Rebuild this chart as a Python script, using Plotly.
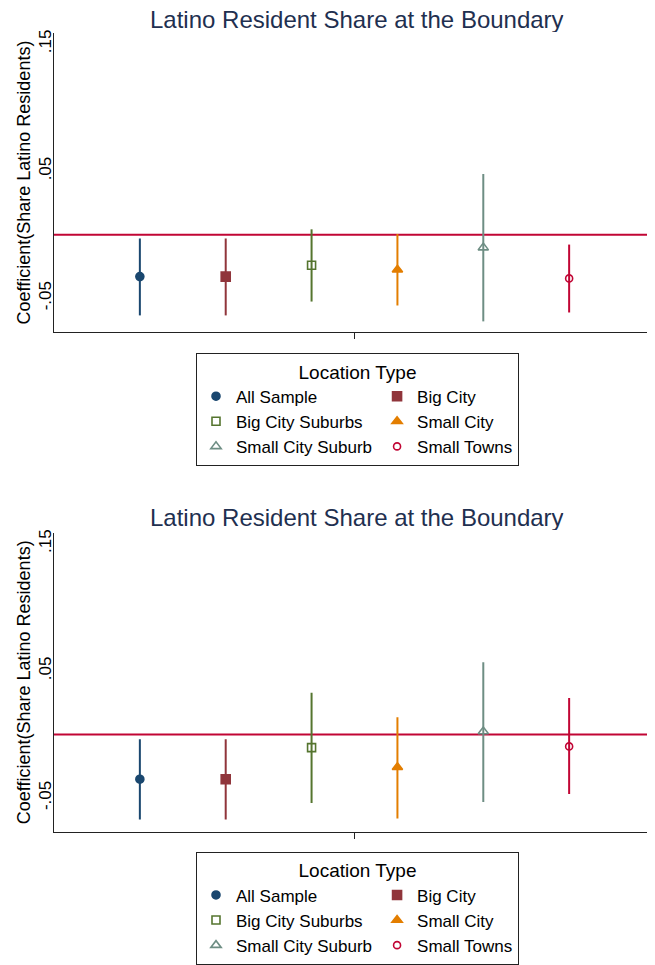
import plotly.graph_objects as go

categories = ["All Sample", "Big City", "Big City Suburbs", "Small City",
              "Small City Suburb", "Small Towns"]
x_pos = [1, 2, 3, 4, 5, 6]

top_coef = [-0.0330, -0.0330, -0.0240, -0.0276, -0.0102, -0.0344]
top_lo = [-0.0635, -0.0635, -0.0526, -0.0557, -0.0682, -0.0612]
top_hi = [-0.0030, -0.0030, 0.0042, 0.0005, 0.0477, -0.0078]

bot_coef = [-0.0352, -0.0352, -0.0104, -0.0258, 0.0023, -0.0094]
bot_lo = [-0.0670, -0.0670, -0.0540, -0.0662, -0.0531, -0.0469]
bot_hi = [-0.0037, -0.0037, 0.0328, 0.0135, 0.0567, 0.0286]

y_tickvals = [-0.05, 0.05, 0.15]
y_ticktext = ["-.05", ".05", ".15"]
y_range = [-0.0766, 0.1586]
x_range = [0, 7]
x_tick = [3.5]

title_text = "Latino Resident Share at the Boundary"
ytitle = "Coefficient(Share Latino Residents)"
legend_title = "Location Type"

colors = ["#1a476f", "#90353b", "#55752f", "#e37e00", "#6e8e84", "#c10534"]
symbols = ["circle", "square", "square-open", "triangle-up", "triangle-up-open", "circle-open"]
sizes = [8, 9, 8, 9, 9, 7]
groups = ["a", "b", "a", "b", "a", "b"]

FONT = "Liberation Sans, Arial, sans-serif"

fig = go.Figure()

panels = [
    (top_coef, top_lo, top_hi, "x", "y", "legend", "t"),
    (bot_coef, bot_lo, bot_hi, "x2", "y2", "legend2", "u"),
]

for coef, lo, hi, xa, ya, leg, gp in panels:
    for i, cat in enumerate(categories):
        fig.add_trace(go.Scatter(
            x=[x_pos[i], x_pos[i]], y=[lo[i], hi[i]], mode="lines",
            line=dict(color=colors[i], width=2), showlegend=False,
            hoverinfo="skip", xaxis=xa, yaxis=ya))
    for i, cat in enumerate(categories):
        fig.add_trace(go.Scatter(
            x=[x_pos[i]], y=[coef[i]], mode="markers", name=cat,
            marker=dict(symbol=symbols[i], size=sizes[i], color=colors[i],
                        line=dict(color=colors[i], width=1.6)),
            legend=leg, legendgroup=gp + groups[i],
            xaxis=xa, yaxis=ya))

# zero reference lines
for xa, ya in [("x", "y"), ("x2", "y2")]:
    fig.add_shape(type="line", xref=xa, yref=ya, x0=x_range[0], x1=x_range[1],
                  y0=0, y1=0, line=dict(color="#c10534", width=2), layer="below")

# page body has an 8px default margin; figure is sized to fill the rest
OFF = 8
W = 655 - OFF
H = 965 - OFF
T = 33 - OFF
L = 54 - OFF
PH = H - T


def py(p):
    return (H - (p - OFF)) / PH


def px(p):
    return ((p - OFF) - L) / (W - L)


axis_common = dict(showline=True, linecolor="#222", linewidth=1.3, showgrid=False,
                   zeroline=False, automargin=False)

yaxis_common = dict(range=y_range, tickvals=y_tickvals, ticktext=y_ticktext, ticks="",
                    tickangle=-90, ticklabelstandoff=-5,
                    tickfont=dict(size=17, family=FONT, color="black"),
                    title=dict(text=ytitle, font=dict(size=18, family=FONT, color="black"),
                               standoff=0),
                    **axis_common)
xaxis_common = dict(range=x_range, tickvals=x_tick, ticktext=[""], ticks="outside",
                    ticklen=6, tickcolor="#222", **axis_common)

fig.update_layout(
    width=W, height=H,
    margin=dict(l=L, r=0, t=T, b=0),
    paper_bgcolor="white", plot_bgcolor="white",
    font=dict(family=FONT, color="black"),
    showlegend=True,
    xaxis=dict(domain=[0, 1], anchor="y", **xaxis_common),
    yaxis=dict(domain=[py(334), py(33)], anchor="x", **yaxis_common),
    xaxis2=dict(domain=[0, 1], anchor="y2", **xaxis_common),
    yaxis2=dict(domain=[py(837), py(536)], anchor="x2", **yaxis_common),
)

legend_common = dict(
    orientation="h", traceorder="grouped", tracegroupgap=14,
    xanchor="left", yanchor="top",
    bgcolor="white", bordercolor="#222", borderwidth=1,
    font=dict(size=17, family=FONT, color="black"),
    title=dict(text=legend_title, side="top center",
               font=dict(size=19, family=FONT, color="black")),
    itemclick=False, itemdoubleclick=False,
)
fig.update_layout(
    legend=dict(x=px(196), y=py(355), **legend_common),
    legend2=dict(x=px(196), y=py(857), **legend_common),
)

for yp in [19, 520]:
    fig.add_annotation(text=title_text, xref="paper", yref="paper",
                       x=px(357), y=py(yp), xanchor="center", yanchor="middle",
                       showarrow=False, height=26, valign="middle", borderpad=0,
                       font=dict(size=24, family=FONT, color="#1f3050"))

fig.write_html("out.html")
